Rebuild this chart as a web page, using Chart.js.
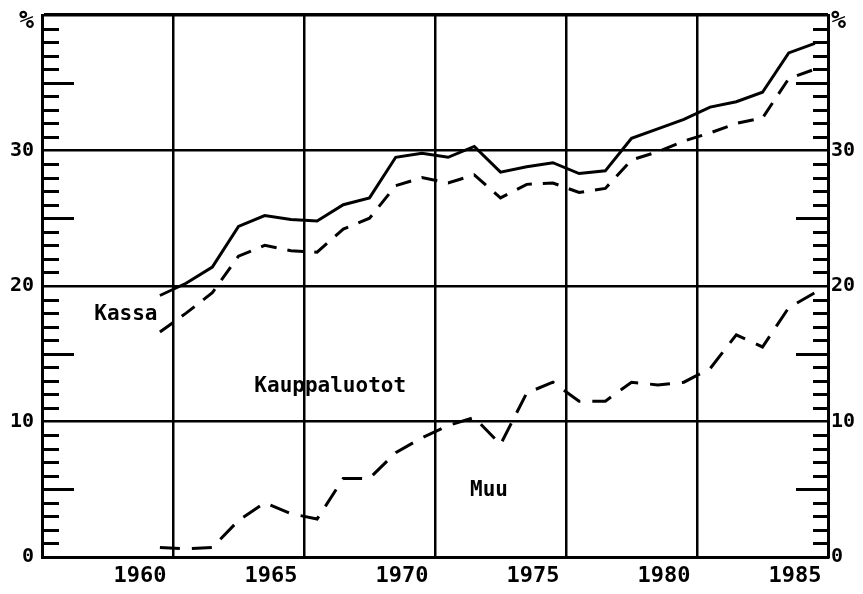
<!DOCTYPE html>
<html>
<head>
<meta charset="utf-8">
<script src="https://cdn.jsdelivr.net/npm/chart.js@4.4.0/dist/chart.umd.min.js"></script>
<style>
html, body { margin:0; padding:0; background:#fff; }
</style>
</head>
<body>
<canvas id="myChart" width="863" height="594"></canvas>
<script>
// years on the x axis, one point per year
const years = [1960,1961,1962,1963,1964,1965,1966,1967,1968,1969,1970,1971,1972,
               1973,1974,1975,1976,1977,1978,1979,1980,1981,1982,1983,1984,1985]

// top solid line
const kassa = [19.3,20.2,21.4,24.4,25.2,24.9,24.8,26.0,26.5,29.5,29.8,29.5,30.3,
               28.4,28.8,29.1,28.3,28.5,30.9,31.6,32.3,33.2,33.6,34.3,37.2,37.9]
// upper dashed line
const kauppaluotot = [16.6,18.0,19.5,22.2,23.0,22.6,22.5,24.2,25.0,27.4,28.0,27.6,28.2,
                      26.5,27.5,27.6,26.9,27.2,29.3,29.9,30.7,31.3,32.0,32.4,35.3,36.0]
// lower dashed line
const muu = [0.7,0.6,0.7,2.7,4.0,3.2,2.8,5.8,5.8,7.7,8.8,9.7,10.3,
             8.3,12.1,12.9,11.5,11.5,12.9,12.7,12.9,13.9,16.4,15.5,18.4,19.5]

const x_tick_years = [1960,1965,1970,1975,1980,1985]
const y_tick_values = [0,10,20,30,40]
const y_tick_labels = ['0','10','20','30','%']

const area_names = ['Kassa','Kauppaluotot','Muu']


function to_points(values) {
    return values.map((v,i)=>({x:years[i], y:v}))
}

// short tick marks on the inner side of both y borders + the area names
const inside_marks = {
    id: 'inside_marks',
    afterDatasetsDraw(chart) {
        const {ctx, chartArea, scales} = chart
        ctx.save()
        ctx.strokeStyle = '#000'
        ctx.lineWidth = 3
        for (let v = 1; v < 40; v++) {
            if (v % 10 === 0) continue
            const y = Math.round(scales.y.getPixelForValue(v)) + 0.5
            const long = v % 5 === 0
            ctx.beginPath()
            ctx.moveTo(chartArea.left, y)
            ctx.lineTo(chartArea.left + (long ? 32 : 17), y)
            ctx.moveTo(chartArea.right, y)
            ctx.lineTo(chartArea.right - (long ? 32 : 15), y)
            ctx.stroke()
        }
        // where the names sit (year, %)
        const spots = [[1958.7,17.9],[1966.5,12.6],[1972.56,4.9]]
        ctx.fillStyle = '#000'
        ctx.font = 'bold 21px "DejaVu Sans Mono"'
        ctx.textAlign = 'center'
        ctx.textBaseline = 'middle'
        area_names.forEach((name,i)=>{
            ctx.fillText(name, scales.x.getPixelForValue(spots[i][0]), scales.y.getPixelForValue(spots[i][1]))
        })
        ctx.restore()
    }
}

// the % sign on top is bigger than the numbers and sits a bit under the top line
const tick_font = (c)=>{
    if (c.tick && c.tick.value===40) return {family:'DejaVu Sans Mono', size:25, weight:'bold', lineHeight:0.48}
    return {family:'DejaVu Sans Mono', size:20, weight:'bold'}
}
function y_label(v) {
    const label = y_tick_labels[y_tick_values.indexOf(v)]
    return v===40 ? ['', label] : label
}

// fixed axis sizes so the plot area sits where the original has it
function fit_y(width) {
    return (s)=>{
        s.width = width
        s.paddingTop = 0
        s.paddingBottom = 0
    }
}

const ctx = document.getElementById('myChart').getContext('2d')
const myChart = new Chart(ctx, {
    type: 'line',
    data: {
        datasets: [
            {label:'Kassa', data:to_points(kassa), borderColor:'#000', borderWidth:3, pointRadius:0, tension:0},
            {label:'Kauppaluotot', data:to_points(kauppaluotot), borderColor:'#000', borderWidth:3, borderDash:[16,11], pointRadius:0, tension:0},
            {label:'Muu', data:to_points(muu), borderColor:'#000', borderWidth:3, borderDash:[20,12], pointRadius:0, tension:0}
        ]
    },
    options: {
        responsive: false,
        animation: false,
        devicePixelRatio: 1,
        layout: {padding:{top:15, left:0, right:0, bottom:0}},
        plugins: {legend:{display:false}, tooltip:{enabled:false}},
        scales: {
            x: {
                type: 'linear',
                min: 1955.5,
                max: 1985.5,
                afterBuildTicks: (s)=>{ s.ticks = x_tick_years.map(y=>({value:y+0.5})) },
                afterFit: (s)=>{ s.height = 37 },
                ticks: {
                    autoSkip:false, maxRotation:0, padding:6, color:'#000',
                    labelOffset:-33,
                    font:{family:'DejaVu Sans Mono', size:22, weight:'bold'},
                    callback:(v)=>String(Math.floor(v))
                },
                grid: {color:'#000', lineWidth:2.5, drawTicks:false},
                border: {display:true, color:'#000', width:3}
            },
            y: {
                position: 'left',
                min: 0,
                max: 40,
                afterBuildTicks: (s)=>{ s.ticks = y_tick_values.map(v=>({value:v})) },
                afterFit: fit_y(42),
                ticks: {padding:8, color:'#000', font:tick_font, callback:y_label},
                grid: {color:'#000', lineWidth:(c)=>c.tick && c.tick.value===40 ? 3.5 : 2.5, drawTicks:false},
                border: {display:true, color:'#000', width:3}
            },
            y2: {
                position: 'right',
                min: 0,
                max: 40,
                afterBuildTicks: (s)=>{ s.ticks = y_tick_values.map(v=>({value:v})) },
                afterFit: fit_y(35),
                ticks: {padding:3, color:'#000', font:tick_font, callback:y_label},
                grid: {drawOnChartArea:false, drawTicks:false},
                border: {display:true, color:'#000', width:3}
            }
        }
    },
    plugins: [inside_marks]
})
</script>
</body>
</html>
